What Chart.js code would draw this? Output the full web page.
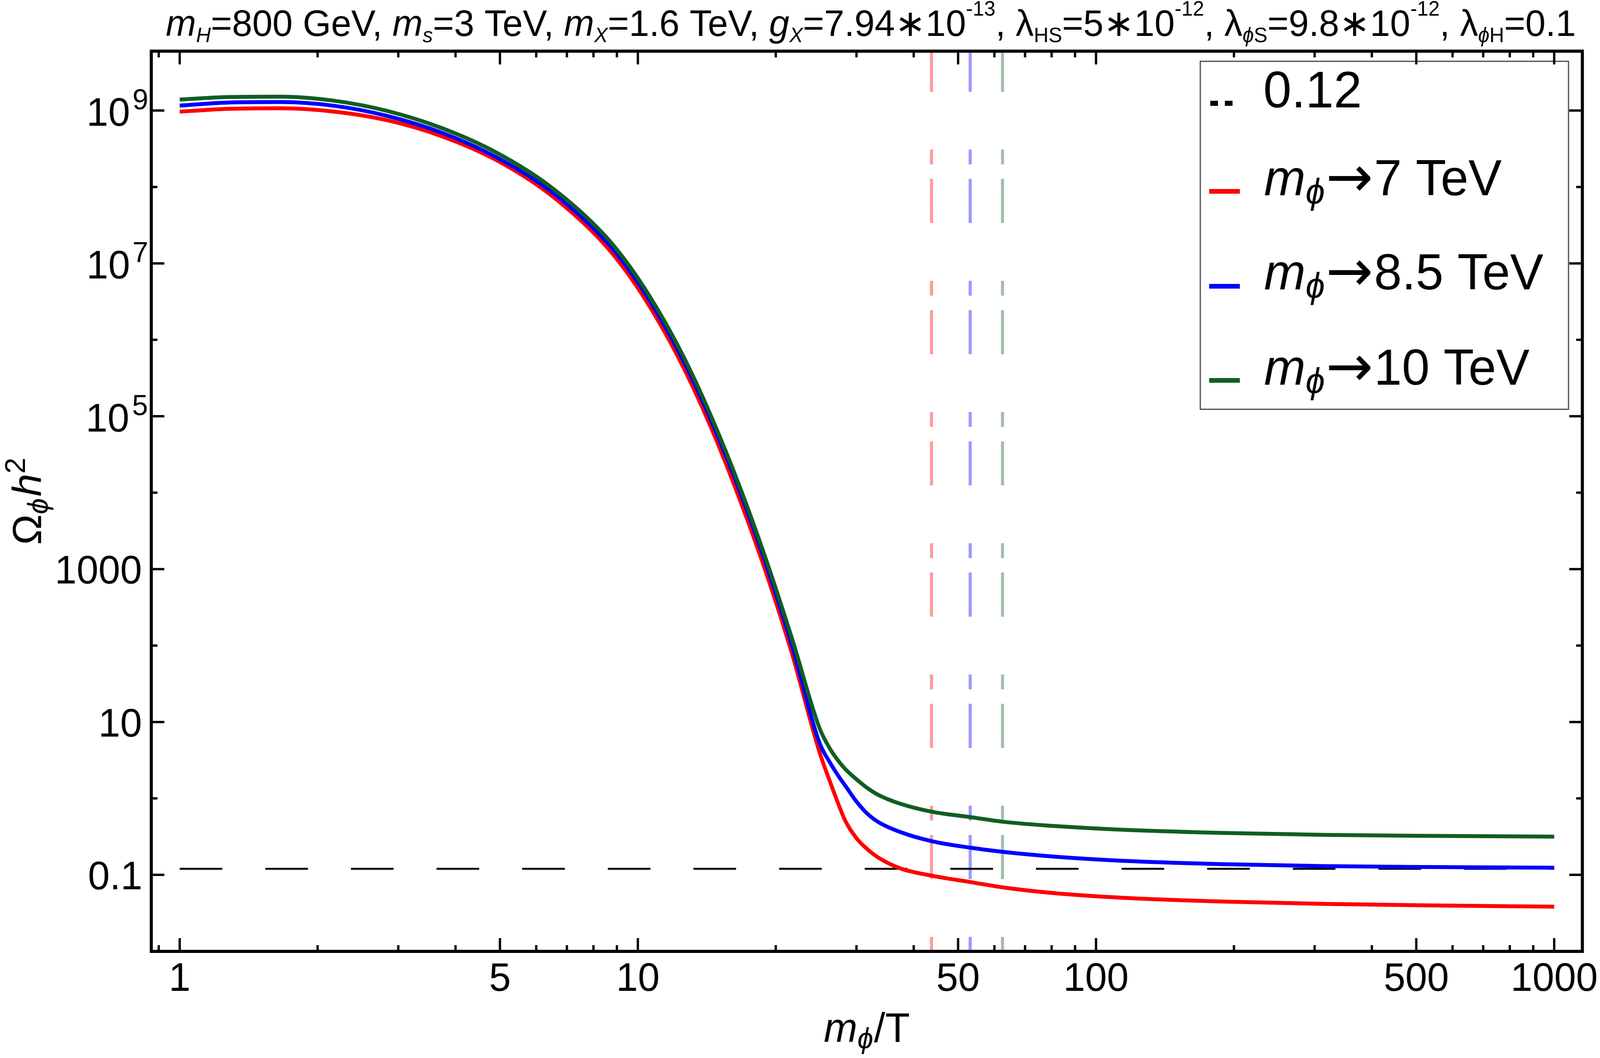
<!DOCTYPE html>
<html><head><meta charset="utf-8">
<script src="https://cdn.jsdelivr.net/npm/chart.js@4.4.1/dist/chart.umd.min.js"></script>
<style>html,body{margin:0;padding:0;background:#fff;overflow:hidden}
#wrap{position:absolute;left:0;top:0;width:4167px;height:2709px;transform-origin:0 0}
canvas{display:block}</style>
</head><body>
<div id="wrap"><canvas id="c" width="4167" height="2709" style="width:4167px;height:2709px"></canvas></div>
<script>
// ---- data ----
const xValues    = [1, 1.27, 1.66, 2.18, 2.85, 3.74, 4.9, 6.43, 8.43, 9.65, 11.05, 12.65, 14.49, 16.59, 18.99, 21.75, 24.9, 26.3, 27.5, 28.4, 30, 31.7, 33.5, 37.4, 43.9, 53.2, 62.7, 81.2, 114, 190, 318, 532, 1000];
const omegaRed   = [9.66e8, 1.05e9, 1.07e9, 9.66e8, 7.41e8, 4.59e8, 2.26e8, 7.98e7, 1.81e7, 6.49e6, 1.82e6, 4.05e5, 6.81e4, 8930, 946, 74.5, 4.07, 1.62, 0.794, 0.501, 0.302, 0.216, 0.168, 0.1216, 0.0973, 0.0804, 0.0684, 0.0575, 0.0501, 0.0447, 0.0417, 0.0398, 0.0383];
const omegaBlue  = [1.16e9, 1.27e9, 1.29e9, 1.15e9, 8.45e8, 5.11e8, 2.47e8, 8.95e7, 2.09e7, 7.66e6, 2.18e6, 4.94e5, 8.43e4, 1.15e4, 1213, 95.3, 5.4, 2.9, 1.9, 1.45, 0.91, 0.63, 0.49, 0.363, 0.275, 0.2265, 0.1995, 0.173, 0.153, 0.138, 0.130, 0.1265, 0.124];
const omegaGreen = [1.39e9, 1.50e9, 1.52e9, 1.34e9, 9.82e8, 5.87e8, 2.84e8, 1.02e8, 2.39e7, 8.73e6, 2.49e6, 5.64e5, 9.64e4, 1.31e4, 1406, 118, 8.41, 4.4, 3.0, 2.4, 1.78, 1.365, 1.11, 0.851, 0.668, 0.569, 0.495, 0.435, 0.389, 0.353, 0.333, 0.324, 0.316];
const massLabels = ['7 TeV', '8.5 TeV', '10 TeV'];
const markerX = [43.75, 53.125, 62.5];     // m_phi / 160 GeV
const relicValue = 0.12;
const relicLabel = '0.12';
const xRange = [0.867, 1152];
const yRange = [0.00997, 5.98e9];
const xMajorTicks = [1, 5, 10, 50, 100, 500, 1000];
const xTickLabels = ['1', '5', '10', '50', '100', '500', '1000'];
const xMinorTicks = [0.9, 2, 3, 4, 6, 7, 8, 9, 20, 30, 40, 60, 70, 80, 90, 200, 300, 400, 600, 700, 800, 900];
const yMajorTicks = [1e9, 1e7, 1e5, 1e3, 10, 0.1];
const yTickBase = ['10', '10', '10', '1000', '10', '0.1'];
const yTickExp  = ['9', '7', '5', '', '', ''];
const yMinorTicks = [1e8, 1e6, 1e4, 100, 1, 0.01];

// fit the 4167x2709 drawing to the actual viewport
(function () {
  const vw = document.documentElement.clientWidth || window.innerWidth;
  const vh = document.documentElement.clientHeight || window.innerHeight;
  if (vw && vh && (Math.abs(vw - 4167) > 1 || Math.abs(vh - 2709) > 1)) {
    document.getElementById('wrap').style.transform = 'scale(' + (vw / 4167) + ',' + (vh / 2709) + ')';
  }
})();

const FAM = '"Liberation Sans", Arial, sans-serif';
const C_RED = '#ff0000', C_BLUE = '#0000ff', C_GREEN = '#105e22';
const C_RED_P = 'rgba(255,0,0,0.4)', C_BLUE_P = 'rgba(0,0,255,0.4)', C_GREEN_P = 'rgba(16,94,34,0.4)';

function pts(xs, ys) { return xs.map((x, i) => ({x, y: ys[i]})); }

function rich(ctx, pieces, x, y, cfg, align, measureOnly) {
  let w = 0;
  const items = pieces.map(p => {
    const size = p.size ? p.size * cfg.base : ((p.sub || p.sup) ? cfg.script : cfg.base);
    const font = (p.it ? 'italic ' : '') + size + 'px ' + (p.fam || FAM);
    ctx.font = font;
    const o = {p, font, w: ctx.measureText(p.t).width + (p.dx || 0) * cfg.base / 100};
    w += o.w; return o;
  });
  if (measureOnly) return w;
  let cx = align === 'center' ? x - w / 2 : align === 'right' ? x - w : x;
  ctx.textAlign = 'left'; ctx.textBaseline = 'alphabetic';
  for (const o of items) {
    ctx.font = o.font;
    const dy = (o.p.sub ? cfg.sub : (o.p.sup ? -cfg.sup : 0)) + (o.p.dy || 0) * cfg.base / 100;
    ctx.fillText(o.p.t, cx, y + dy);
    cx += o.w;
  }
  return w;
}

const decor = {
  id: 'decor',
  afterDraw(chart) {
    const {ctx, chartArea: a, scales: {x, y}} = chart;
    ctx.save();

    // legend box
    ctx.fillStyle = '#fff';
    ctx.fillRect(3126, 157, 959, 891);
    ctx.strokeStyle = '#444'; ctx.lineWidth = 3;
    ctx.strokeRect(3126, 157, 959, 891);
    ctx.fillStyle = '#000';
    ctx.fillRect(3152, 258, 20, 13);
    ctx.fillRect(3190, 258, 20, 13);
    ctx.font = '132px ' + FAM; ctx.textAlign = 'left'; ctx.textBaseline = 'alphabetic';
    ctx.fillText(relicLabel, 3290, 275);
    const legCols = [C_RED, C_BLUE, C_GREEN];
    const legSym = [490, 733, 974];
    const legBase = [500, 741, 985];
    const legCfg = {base: 130, script: 90, sub: 21, sup: 0};
    for (let i = 0; i < 3; i++) {
      ctx.fillStyle = legCols[i];
      ctx.fillRect(3149, legSym[i] - 6, 80, 12);
      ctx.fillStyle = '#000';
      rich(ctx, [{t: 'm', it: 1}, {t: '\u03d5', it: 1, sub: 1, dx: 2},
                 {t: '\u2192', fam: '"DejaVu Sans", sans-serif', size: 1.13, dy: 2, dx: 2},
                 {t: massLabels[i]}], 3292, legBase[i], legCfg, 'left');
    }

    // frame
    ctx.strokeStyle = '#000'; ctx.lineWidth = 8;
    ctx.strokeRect(a.left, a.top, a.right - a.left, a.bottom - a.top);

    // ticks (inward, mirrored on all four sides)
    ctx.lineWidth = 6;
    const tick = (px, len, horiz) => {
      ctx.beginPath();
      if (horiz) {
        ctx.moveTo(px, a.bottom); ctx.lineTo(px, a.bottom - len);
        ctx.moveTo(px, a.top); ctx.lineTo(px, a.top + len);
      } else {
        ctx.moveTo(a.left, px); ctx.lineTo(a.left + len, px);
        ctx.moveTo(a.right, px); ctx.lineTo(a.right - len, px);
      }
      ctx.stroke();
    };
    xMajorTicks.forEach(v => tick(x.getPixelForValue(v), 34, true));
    xMinorTicks.forEach(v => tick(x.getPixelForValue(v), 16, true));
    yMajorTicks.forEach(v => tick(y.getPixelForValue(v), 34, false));
    yMinorTicks.forEach(v => { const p = y.getPixelForValue(v); if (p < a.bottom - 2) tick(p, 16, false); });

    // x tick labels
    ctx.fillStyle = '#000';
    ctx.font = '102px ' + FAM; ctx.textAlign = 'center'; ctx.textBaseline = 'alphabetic';
    xMajorTicks.forEach((v, i) => ctx.fillText(xTickLabels[i], x.getPixelForValue(v), 2537));

    // y tick labels
    yMajorTicks.forEach((v, i) => {
      const py = y.getPixelForValue(v);
      ctx.textAlign = 'left';
      if (yTickExp[i]) {
        ctx.font = '74px ' + FAM;
        const me = ctx.measureText(yTickExp[i]);
        const ex = 383 - me.actualBoundingBoxRight;
        ctx.fillText(yTickExp[i], ex, py - 3);
        ctx.font = '102px ' + FAM;
        const mb = ctx.measureText(yTickBase[i]);
        ctx.fillText(yTickBase[i], ex - me.actualBoundingBoxLeft - 13 - mb.actualBoundingBoxRight, py + 39);
      } else {
        ctx.font = '102px ' + FAM;
        const mb = ctx.measureText(yTickBase[i]);
        ctx.fillText(yTickBase[i], 366 - mb.actualBoundingBoxRight, py + 37);
      }
    });

    // axis labels
    rich(ctx, [{t: 'm', it: 1}, {t: '\u03d5', it: 1, sub: 1, dx: 2}, {t: '/T'}], (a.left + a.right) / 2, 2668, {base: 105, script: 74, sub: 16, sup: 0}, 'center');
    ctx.save();
    ctx.translate(107, (a.top + a.bottom) / 2);
    ctx.rotate(-Math.PI / 2);
    rich(ctx, [{t: '\u03a9'}, {t: '\u03d5', it: 1, sub: 1, dx: 4}, {t: 'h', it: 1}, {t: '2', sup: 1}], 0, 0, {base: 105, script: 74, sub: 17, sup: 42}, 'center');
    ctx.restore();

    // title
    const S = (t, it) => ({t, it, sub: 1});
    const P = (t) => ({t, sup: 1});
    const T = (t, it) => ({t, it});
    const titlePieces = [
      T('m', 1), S('H', 1), T('=800 GeV, '),
      T('m', 1), S('s', 1), T('=3 TeV, '),
      T('m', 1), S('X', 1), T('=1.6 TeV, '),
      T('g', 1), S('X', 1), T('=7.94\u221710'), P('-13'), T(', '),
      T('\u03bb'), S('HS'), T('=5\u221710'), P('-12'), T(', '),
      T('\u03bb'), S('\u03d5', 1), S('S'), T('=9.8\u221710'), P('-12'), T(', '),
      T('\u03bb'), S('\u03d5', 1), S('H'), T('=0.1')
    ];
    const tcfg = (b) => ({base: b, script: b * 0.56, sub: b * 0.17, sup: b * 0.55});
    const w0 = rich(ctx, titlePieces, 0, 0, tcfg(89), 'left', true);
    const tb = Math.min(96, Math.max(86, 89 * 3672 / w0));
    rich(ctx, titlePieces, (432 + 4104) / 2, 92, tcfg(tb), 'center');

    ctx.restore();
  }
};

const vline = (xv, col) => ({
  data: [{x: xv, y: yRange[1]}, {x: xv, y: yRange[0]}],
  borderColor: col, borderWidth: 8, borderDash: [113, 148, 38, 37], borderDashOffset: 9,
  borderCapStyle: 'butt', pointRadius: 0, tension: 0, order: 5
});

new Chart(document.getElementById('c').getContext('2d'), {
  type: 'line',
  data: {
    datasets: [
      vline(markerX[0], C_RED_P), vline(markerX[1], C_BLUE_P), vline(markerX[2], C_GREEN_P),
      {label: relicLabel, data: [{x: 1, y: relicValue}, {x: 1000, y: relicValue}], borderColor: '#000', borderWidth: 5,
       borderDash: [111, 112], borderCapStyle: 'butt', pointRadius: 0, tension: 0, order: 4},
      {label: 'm\u03d5\u2192' + massLabels[0], data: pts(xValues, omegaRed), borderColor: C_RED, borderWidth: 10,
       cubicInterpolationMode: 'monotone', pointRadius: 0, order: 3, borderJoinStyle: 'round'},
      {label: 'm\u03d5\u2192' + massLabels[1], data: pts(xValues, omegaBlue), borderColor: C_BLUE, borderWidth: 10,
       cubicInterpolationMode: 'monotone', pointRadius: 0, order: 2, borderJoinStyle: 'round'},
      {label: 'm\u03d5\u2192' + massLabels[2], data: pts(xValues, omegaGreen), borderColor: C_GREEN, borderWidth: 10,
       cubicInterpolationMode: 'monotone', pointRadius: 0, order: 1, borderJoinStyle: 'round'}
    ]
  },
  options: {
    responsive: false, devicePixelRatio: 1, animation: false,
    layout: {padding: {left: 394, top: 131, right: 46, bottom: 273}},
    plugins: {legend: {display: false}, tooltip: {enabled: false}, title: {display: false}},
    scales: {
      x: {type: 'logarithmic', min: xRange[0], max: xRange[1], display: false},
      y: {type: 'logarithmic', min: yRange[0], max: yRange[1], display: false}
    }
  },
  plugins: [decor]
});
</script>
</body></html>
